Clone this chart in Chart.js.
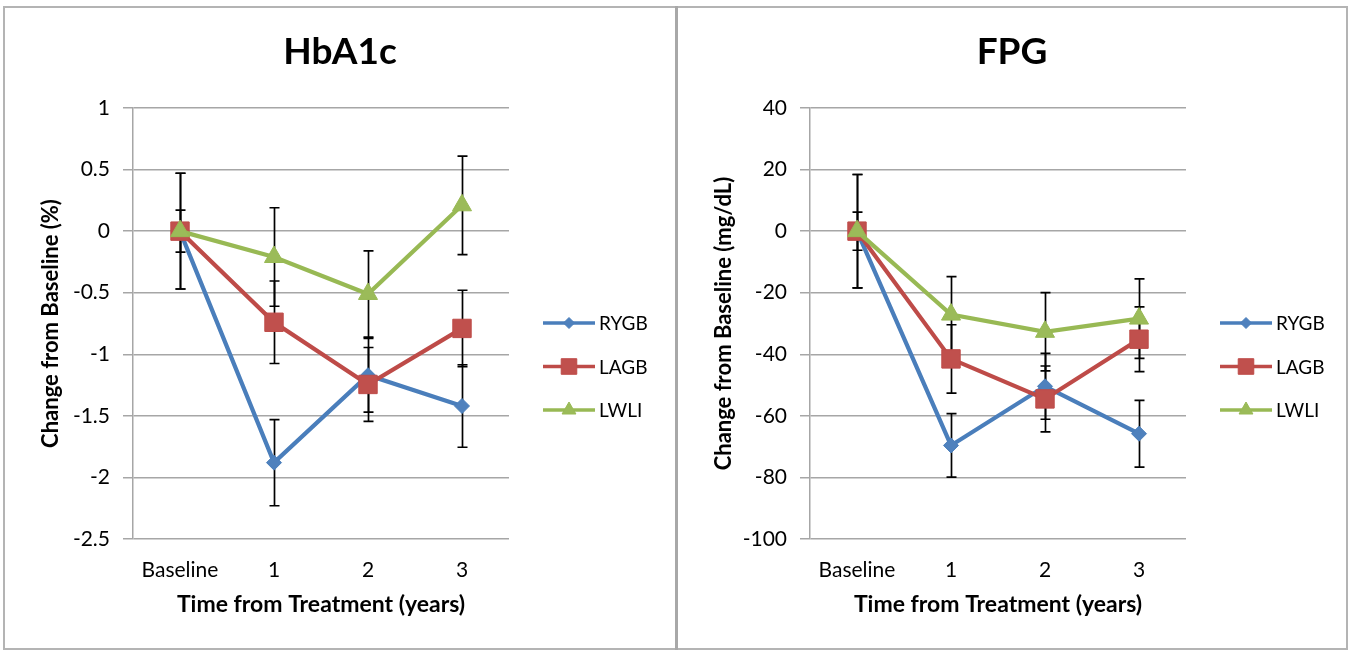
<!DOCTYPE html>
<html><head><meta charset="utf-8">
<script src="https://cdn.jsdelivr.net/npm/chart.js@4.4.1/dist/chart.umd.min.js"></script>
<style>
html,body{margin:0;padding:0;background:#fff;overflow:hidden;}
#frame{position:absolute;left:3px;top:6px;width:1341px;height:640px;border:2px solid #b4b4b4;}
#divider{position:absolute;left:675px;top:6px;width:3px;height:644px;background:#a8a8a8;}
.box{position:absolute;top:8px;height:639px;}
#boxA{left:5px;width:670px;}
#boxB{left:678px;width:668px;}
</style></head><body>
<div id="frame"></div><div id="divider"></div>
<div class="box" id="boxA"><canvas id="cA" width="670" height="639"></canvas></div>
<div class="box" id="boxB"><canvas id="cB" width="668" height="639"></canvas></div>
<script>
// ---- data ----
const categories = ['Baseline', '1', '2', '3'];
const seriesNames = ['RYGB', 'LAGB', 'LWLI'];

// HbA1c change (%)
const hba1cRYGB = [0, -1.88, -1.17, -1.42];
const hba1cLAGB = [0, -0.74, -1.245, -0.79];
const hba1cLWLI = [0, -0.21, -0.51, 0.21];
const hba1cErrRYGB = [0.47, 0.35, 0.30, 0.335];
const hba1cErrLAGB = [0.47, 0.335, 0.30, 0.31];
const hba1cErrLWLI = [0.17, 0.40, 0.35, 0.40];
const hba1cTicks = [1, 0.5, 0, -0.5, -1, -1.5, -2, -2.5];

// FPG change (mg/dL)
const fpgRYGB = [0, -69.6, -50.4, -65.8];
const fpgLAGB = [0, -41.5, -54.5, -35.1];
const fpgLWLI = [0, -27.1, -32.7, -28.4];
const fpgErrRYGB = [18.4, 10.3, 10.7, 10.85];
const fpgErrLAGB = [18.4, 11.1, 10.7, 10.5];
const fpgErrLWLI = [6.2, 12.3, 12.7, 12.9];
const fpgTicks = [40, 20, 0, -20, -40, -60, -80, -100];

// ---- styling ----
const FONT = 'Lato, "Open Sans", sans-serif';
const lineColors = ['#4A7EBB', '#BE4B48', '#98B954'];
const fillColors = ['#4F81BD', '#C0504D', '#9BBB59'];
const pointStyles = ['rectRot', 'rect', 'triangle'];
const pointRadii = [7.5, 13, 11];
const legendRadii = [5.5, 11, 8];

const errorBars = {
  id: 'errorBars',
  beforeDatasetsDraw(chart) {
    const ctx = chart.ctx, ys = chart.scales.y;
    ctx.save();
    ctx.strokeStyle = '#000';
    ctx.lineWidth = 1.7;
    chart.data.datasets.forEach((ds, i) => {
      const meta = chart.getDatasetMeta(i);
      meta.data.forEach((pt, j) => {
        const v = ds.data[j], e = ds.errors[j];
        const x = Math.round(pt.x) + 0.5;
        const y1 = ys.getPixelForValue(v + e), y2 = ys.getPixelForValue(v - e);
        ctx.beginPath();
        ctx.moveTo(x, y1); ctx.lineTo(x, y2);
        ctx.moveTo(x - 5, y1); ctx.lineTo(x + 5, y1);
        ctx.moveTo(x - 5, y2); ctx.lineTo(x + 5, y2);
        ctx.stroke();
      });
    });
    ctx.restore();
  }
};

function makeSideLegend(legendWidth) {
  return {
    id: 'sideLegend',
    beforeInit(chart) {
      const box = {
        position: 'right', weight: 2000, fullSize: false,
        options: {},
        left: 0, top: 0, right: 0, bottom: 0, width: 0, height: 0,
        isHorizontal() { return false; },
        update(maxWidth, maxHeight) {
          this.width = legendWidth; this.height = maxHeight;
        },
        getPadding() { return { left: 0, top: 0, right: 0, bottom: 0 }; },
        draw() {
          const ctx = chart.ctx;
          const x0 = chart.chartArea.right + 34;
          const ysPos = [315, 358.5, 402];
          ctx.save();
          chart.data.datasets.forEach((ds, i) => {
            const y = ysPos[i];
            ctx.strokeStyle = lineColors[i];
            ctx.lineWidth = 3.5;
            ctx.beginPath(); ctx.moveTo(x0, y); ctx.lineTo(x0 + 52, y); ctx.stroke();
            ctx.fillStyle = fillColors[i];
            ctx.strokeStyle = lineColors[i];
            ctx.lineWidth = 1;
            Chart.helpers.drawPoint(ctx, { pointStyle: pointStyles[i], radius: legendRadii[i], rotation: 0, borderWidth: 1 }, x0 + 26, y);
            ctx.fillStyle = '#000';
            ctx.font = '19px ' + FONT;
            ctx.textBaseline = 'middle';
            ctx.textAlign = 'left';
            ctx.fillText(ds.label, x0 + 56, y + 1);
          });
          ctx.restore();
        }
      };
      Chart.layouts.addBox(chart, box);
    }
  };
}

function makeChart(id, title, yTitle, tickVals, series, errs, yAxisWidth) {
  const datasets = series.map((d, i) => ({
    label: seriesNames[i],
    data: d,
    errors: errs[i],
    borderColor: lineColors[i],
    backgroundColor: fillColors[i],
    pointBackgroundColor: fillColors[i],
    pointBorderColor: lineColors[i],
    pointBorderWidth: 1,
    borderWidth: 4.2,
    pointStyle: pointStyles[i],
    pointRadius: pointRadii[i],
    tension: 0,
    order: 3 - i
  }));
  const canvas = document.getElementById(id);
  const legendWidth = canvas.width - yAxisWidth - 376;
  return new Chart(canvas, {
    type: 'line',
    data: { labels: categories, datasets },
    options: {
      responsive: false,
      animation: false,
      devicePixelRatio: 1,
      layout: { padding: 0 },
      plugins: {
        legend: { display: false },
        tooltip: { enabled: false },
        title: {
          display: true, text: title, color: '#000',
          font: { family: FONT, size: 37, weight: 'bold' },
          padding: { top: 21.5, bottom: 34.1 }
        }
      },
      scales: {
        x: {
          type: 'category',
          offset: true,
          grid: { display: false, drawTicks: false },
          border: { display: false },
          ticks: { color: '#000', font: { family: FONT, size: 21 }, padding: 19, maxRotation: 0 },
          title: {
            display: true, text: 'Time from Treatment (years)', color: '#000',
            font: { family: FONT, size: 23, weight: 'bold' },
            padding: { top: 0, bottom: 28.2 }
          },
          afterFit(s) { s.height = 108; }
        },
        y: {
          min: Math.min(...tickVals),
          max: Math.max(...tickVals),
          afterBuildTicks(s) { s.ticks = tickVals.slice().sort((a, b) => a - b).map(v => ({ value: v })); },
          grid: { color: '#a6a6a6', lineWidth: 1.5, tickLength: 10, drawTicks: true },
          border: { display: true, color: '#a6a6a6', width: 1.5 },
          ticks: {
            color: '#000', font: { family: FONT, size: 21 }, padding: 13,
            callback: v => String(v)
          },
          title: {
            display: true, text: yTitle, color: '#000',
            font: { family: FONT, size: 22, weight: 'bold' },
            padding: { top: 33, bottom: 0 }
          },
          afterFit(s) { s.width = yAxisWidth; }
        }
      }
    },
    plugins: [errorBars, makeSideLegend(legendWidth)]
  });
}

makeChart('cA', 'HbA1c', 'Change from Baseline (%)', hba1cTicks,
  [hba1cRYGB, hba1cLAGB, hba1cLWLI], [hba1cErrRYGB, hba1cErrLAGB, hba1cErrLWLI], 128);
makeChart('cB', 'FPG', 'Change from Baseline (mg/dL)', fpgTicks,
  [fpgRYGB, fpgLAGB, fpgLWLI], [fpgErrRYGB, fpgErrLAGB, fpgErrLWLI], 132);
</script>
</body></html>
